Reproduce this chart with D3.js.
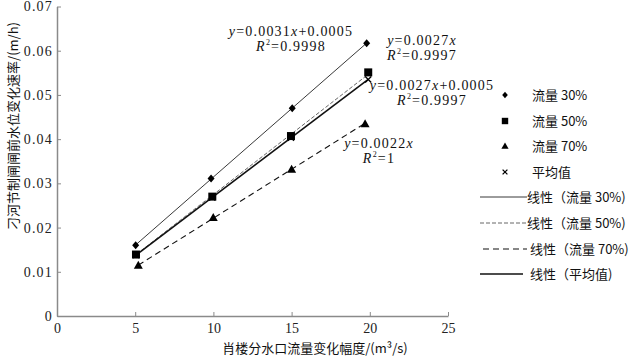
<!DOCTYPE html>
<html><head><meta charset="utf-8">
<script src="https://cdn.jsdelivr.net/npm/d3@7"></script>
<style>body{margin:0;background:#fff}svg{display:block}</style>
</head><body>
<script>
const seriesNames = ["流量 30%", "流量 50%", "流量 70%", "平均值"];
const xs30 = [5.03, 9.85, 15.04, 19.8], ys30 = [0.016, 0.0311, 0.047, 0.0617];
const xs50 = [5.05, 9.93, 14.96, 19.9], ys50 = [0.0139, 0.027, 0.0407, 0.0551];
const xs70 = [5.2, 9.99, 15.0, 19.7], ys70 = [0.0115, 0.0223, 0.0332, 0.0435];
const xsAvg = [5.05, 9.93, 14.96, 19.9], ysAvg = [0.0138, 0.0268, 0.0403, 0.0535];
const throughOrigin = [false, true, true, false];
const eqSlope = ["0.0031", "0.0027", "0.0022", "0.0027"];
const eqIntercept = ["0.0005", "", "", "0.0005"];
const eqR2 = ["0.9998", "0.9997", "1", "0.9997"];
const xTicks = [0, 5, 10, 15, 20, 25];
const yTicks = [0, 0.01, 0.02, 0.03, 0.04, 0.05, 0.06, 0.07];
const xTitle = "肖楼分水口流量变化幅度/(m³/s)";
const yTitle = "刁河节制闸闸前水位变化速率/(m/h)";

const W = 629, H = 356;
const svg = d3.select("body").append("svg").attr("width", W).attr("height", H);
const x = d3.scaleLinear().domain([0, 25]).range([57, 448]);
const y = d3.scaleLinear().domain([0, 0.07]).range([316, 6.5]);
const numFont = "'Liberation Serif','DejaVu Serif',serif";
const cjkFont = "'Noto Sans CJK SC',sans-serif";

const xa = svg.append("g").attr("transform", "translate(0,316)")
  .call(d3.axisBottom(x).tickValues(xTicks).tickSizeInner(-4).tickSizeOuter(0).tickPadding(7).tickFormat(d3.format("d")));
const ya = svg.append("g").attr("transform", "translate(57,0)")
  .call(d3.axisLeft(y).tickValues(yTicks).tickSizeInner(-4).tickSizeOuter(0).tickPadding(4).tickFormat(d => d === 0 ? "0" : d3.format(".2f")(d)));
[xa, ya].forEach(a => {
  a.select(".domain").attr("stroke", "#8a8a8a").attr("stroke-width", 1.5);
  a.selectAll(".tick line").attr("stroke", "#8a8a8a");
  a.selectAll("text").attr("font-family", numFont).attr("font-size", 14).attr("fill", "#222");
});
ya.selectAll("text").attr("letter-spacing", "1.2px");

const data = [
  d3.zip(xs30, ys30), d3.zip(xs50, ys50), d3.zip(xs70, ys70), d3.zip(xsAvg, ysAvg)
];
const styles = [
  {w: 0.9, dash: null, color: "#222"},
  {w: 1, dash: "4,2", color: "#666"},
  {w: 1.1, dash: "6,4", color: "#111"},
  {w: 1.6, dash: null, color: "#111"}
];
function fit(pts, origin) {
  if (origin) {
    const s = d3.sum(pts, d => d[0] * d[1]) / d3.sum(pts, d => d[0] * d[0]);
    return {a: s, b: 0};
  }
  const mx = d3.mean(pts, d => d[0]), my = d3.mean(pts, d => d[1]);
  const a = d3.sum(pts, d => (d[0] - mx) * (d[1] - my)) / d3.sum(pts, d => (d[0] - mx) ** 2);
  return {a, b: my - a * mx};
}
data.forEach((pts, i) => {
  const [x0, x1] = d3.extent(pts, d => d[0]);
  const {a, b} = fit(pts, throughOrigin[i]);
  svg.append("line")
    .attr("x1", x(x0)).attr("y1", y(a * x0 + b))
    .attr("x2", x(x1)).attr("y2", y(a * x1 + b))
    .attr("stroke", styles[i].color).attr("stroke-width", styles[i].w)
    .attr("stroke-dasharray", styles[i].dash);
});

function marker(g, type, cx, cy, k = 1) {
  if (type === 0) g.append("path").attr("d", `M${cx},${cy-4*k}L${cx+3.5*k},${cy}L${cx},${cy+4*k}L${cx-3.5*k},${cy}Z`).attr("fill", "#000");
  else if (type === 1) g.append("rect").attr("x", cx-4*k).attr("y", cy-4*k).attr("width", 8*k).attr("height", 8*k).attr("fill", "#000");
  else if (type === 2) g.append("path").attr("d", `M${cx},${cy-4.5*k}L${cx+4.5*k},${cy+3.5*k}L${cx-4.5*k},${cy+3.5*k}Z`).attr("fill", "#000");
  else g.append("path").attr("d", `M${cx-3*k},${cy-3*k}L${cx+3*k},${cy+3*k}M${cx+3*k},${cy-3*k}L${cx-3*k},${cy+3*k}`).attr("stroke", "#000").attr("stroke-width", 1.3);
}
const mg = svg.append("g");
data.forEach((pts, i) => pts.forEach(d => marker(mg, i, x(d[0]), y(d[1]))));

// equation labels
const eqPos = [[291, 36], [422, 45], [379, 148], [432, 90]];
function eq(cx, cy, i) {
  const t = svg.append("text").attr("x", cx).attr("y", cy).attr("text-anchor", "middle")
    .attr("font-family", numFont).attr("font-size", 14).attr("fill", "#111").attr("letter-spacing", "1.2px");
  t.append("tspan").attr("font-style", "italic").text("y");
  t.append("tspan").text("=" + eqSlope[i]);
  t.append("tspan").attr("font-style", "italic").text("x");
  if (eqIntercept[i]) t.append("tspan").text("+" + eqIntercept[i]);
  const t2 = svg.append("text").attr("x", cx).attr("y", cy + 15).attr("text-anchor", "middle")
    .attr("font-family", numFont).attr("font-size", 14).attr("fill", "#111").attr("letter-spacing", "1.2px");
  t2.append("tspan").attr("font-style", "italic").text("R");
  t2.append("tspan").attr("font-size", 8).attr("dy", -6).text("2");
  t2.append("tspan").attr("dy", 6).text("=" + eqR2[i]);
}
eqPos.forEach((p, i) => eq(p[0], p[1], i));

// legend
const lg = svg.append("g");
const rowY = [95, 121, 146, 172, 197, 223, 249, 274];
seriesNames.forEach((n, i) => {
  marker(lg, i, 505, rowY[i], 0.8);
  lg.append("text").attr("x", 532).attr("y", rowY[i] + 5).attr("font-family", cjkFont).attr("font-size", 13).attr("fill", "#111").text(n);
});
seriesNames.forEach((n, i) => {
  const yy = rowY[i + 4];
  lg.append("line").attr("x1", i === 2 ? 483 : 480).attr("x2", i === 3 ? 523 : 527).attr("y1", yy).attr("y2", yy)
    .attr("stroke", styles[i].color).attr("stroke-width", styles[i].w).attr("stroke-dasharray", styles[i].dash);
  lg.append("text").attr("x", i >= 2 ? 530 : 527).attr("y", yy + 5).attr("font-family", cjkFont).attr("font-size", 13).attr("fill", "#111").text("线性（" + n + ")");
});

// axis titles
svg.append("text").attr("x", 315).attr("y", 353).attr("text-anchor", "middle")
  .attr("font-family", cjkFont).attr("font-size", 13).attr("fill", "#111").text(xTitle);
svg.append("text").attr("transform", "translate(18,126) rotate(-90)").attr("text-anchor", "middle")
  .attr("font-family", cjkFont).attr("font-size", 13).attr("fill", "#111").text(yTitle);
</script>
</body></html>
